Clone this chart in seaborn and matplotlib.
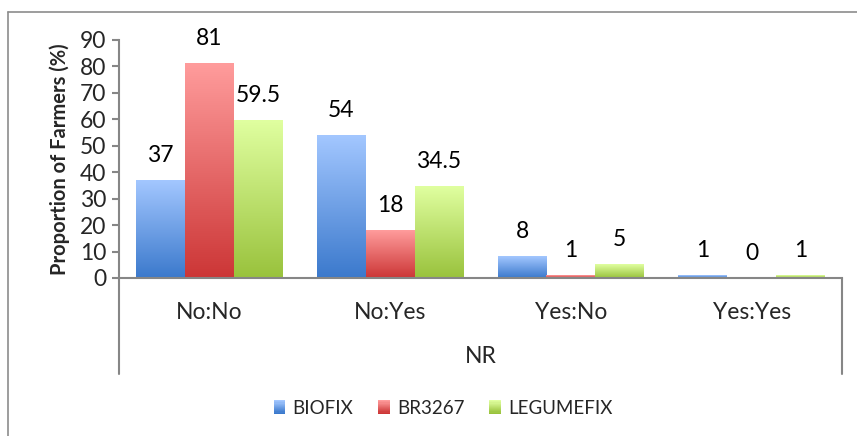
import numpy as np
import pandas as pd
import seaborn as sns
import matplotlib
matplotlib.use('Agg')
import matplotlib.pyplot as plt
from matplotlib.colors import LinearSegmentedColormap, to_rgb
from matplotlib.legend_handler import HandlerBase
from matplotlib.patches import Rectangle
from matplotlib.lines import Line2D

# Donnees
categories = ['No:No', 'No:Yes', 'Yes:No', 'Yes:Yes']
series = ['BIOFIX', 'BR3267', 'LEGUMEFIX']
biofix = [37, 54, 8, 1]
br3267 = [81, 18, 1, 0]
legumefix = [59.5, 34.5, 5, 1]
yticks = [0, 10, 20, 30, 40, 50, 60, 70, 80, 90]

# degrade haut (clair) -> bas (fonce)
degrades = {
    'BIOFIX': ('#A3C7FF', '#3B79CC'),
    'BR3267': ('#FF9C9C', '#CC3636'),
    'LEGUMEFIX': ('#E0FFA0', '#99C23C'),
}

df = pd.DataFrame({
    'NR': categories * 3,
    'serie': [s for s in series for _ in categories],
    'valeur': biofix + br3267 + legumefix,
})

sns.set_style('white')
plt.rcParams['font.family'] = ['Lato', 'DejaVu Sans']
taille = 16.5

fig = plt.figure(figsize=(8.57, 4.36), dpi=100)
ax = fig.add_axes([119 / 857, 1 - 278 / 436, 723 / 857, 238 / 436])

palette = {s: degrades[s][1] for s in series}
sns.barplot(data=df, x='NR', y='valeur', hue='serie', order=categories,
            hue_order=series, palette=palette, width=0.81, saturation=1,
            legend=False, ax=ax)

ax.set_ylim(0, 90)
xlim = ax.get_xlim()

# remplacer chaque barre par un degrade vertical
bars = [p for p in ax.patches if isinstance(p, Rectangle)]
for i, p in enumerate(bars):
    s = series[i // len(categories)]
    h = p.get_height()
    x0, w = p.get_x(), p.get_width()
    p.set_facecolor('none')
    p.set_edgecolor('none')
    if h > 0:
        cmap = LinearSegmentedColormap.from_list('g', [degrades[s][1], degrades[s][0]])
        grad = np.linspace(0, 1, 256).reshape(-1, 1)
        ax.imshow(grad, cmap=cmap, origin='lower', aspect='auto',
                  extent=[x0, x0 + w, 0, h], zorder=2)
    v = df['valeur'].iloc[i]
    txt = f'{v:g}'
    ax.annotate(txt, (x0 + w / 2, h), xytext=(0, 18), textcoords='offset points',
                ha='center', va='center', fontsize=taille, color='black')

ax.set_xlim(xlim)
ax.set_ylim(0, 90)

gris = '#868686'
for sp in ['top', 'right']:
    ax.spines[sp].set_visible(False)
ax.spines['left'].set_color(gris)
ax.spines['bottom'].set_color(gris)
ax.spines['left'].set_linewidth(1.5)
ax.spines['bottom'].set_linewidth(1.5)

ax.set_yticks(yticks)
ax.set_yticklabels([str(t) for t in yticks], fontsize=taille)
ax.tick_params(axis='y', direction='out', length=5, width=1.5, color=gris, pad=4, left=True)
ax.tick_params(axis='x', length=0, pad=17, labelsize=taille)

ax.set_ylabel('Proportion of Farmers (%)', fontsize=14.5, fontweight='bold', labelpad=7)
ax.set_xlabel('NR', fontsize=taille, labelpad=17)

# lignes de la zone des categories
ext = -(374 - 278) / 238
for xa in [0, 1]:
    ax.add_line(Line2D([xa, xa], [ext, 0], transform=ax.transAxes, color=gris,
                       lw=1.5, clip_on=False))

# cadre du graphique
fig.add_artist(Line2D([8 / 857, 1], [1 - 12 / 436, 1 - 12 / 436], color='#8c8c8c', lw=1.2))
fig.add_artist(Line2D([8 / 857, 8 / 857], [0, 1 - 12 / 436], color='#8c8c8c', lw=1.2))


class HandlerDegrade(HandlerBase):
    def create_artists(self, legend, orig_handle, xdescent, ydescent, width, height, fontsize, trans):
        haut, bas = orig_handle
        n = 12
        arts = []
        c1, c2 = np.array(to_rgb(bas)), np.array(to_rgb(haut))
        for k in range(n):
            c = c1 + (c2 - c1) * k / (n - 1)
            r = Rectangle((-xdescent, -ydescent + height * k / n), width, height / n + 0.3,
                          facecolor=c, edgecolor='none', transform=trans)
            arts.append(r)
        return arts


poignees = [degrades[s] for s in series]
leg = fig.legend(poignees, series, handler_map={tuple: HandlerDegrade()},
                 loc='center', bbox_to_anchor=(443 / 857, 1 - 408 / 436), ncol=3,
                 frameon=False, fontsize=13.5, handlelength=0.62, handleheight=0.72,
                 handletextpad=0.4, columnspacing=1.3)

fig.savefig('out.png', dpi=100)
